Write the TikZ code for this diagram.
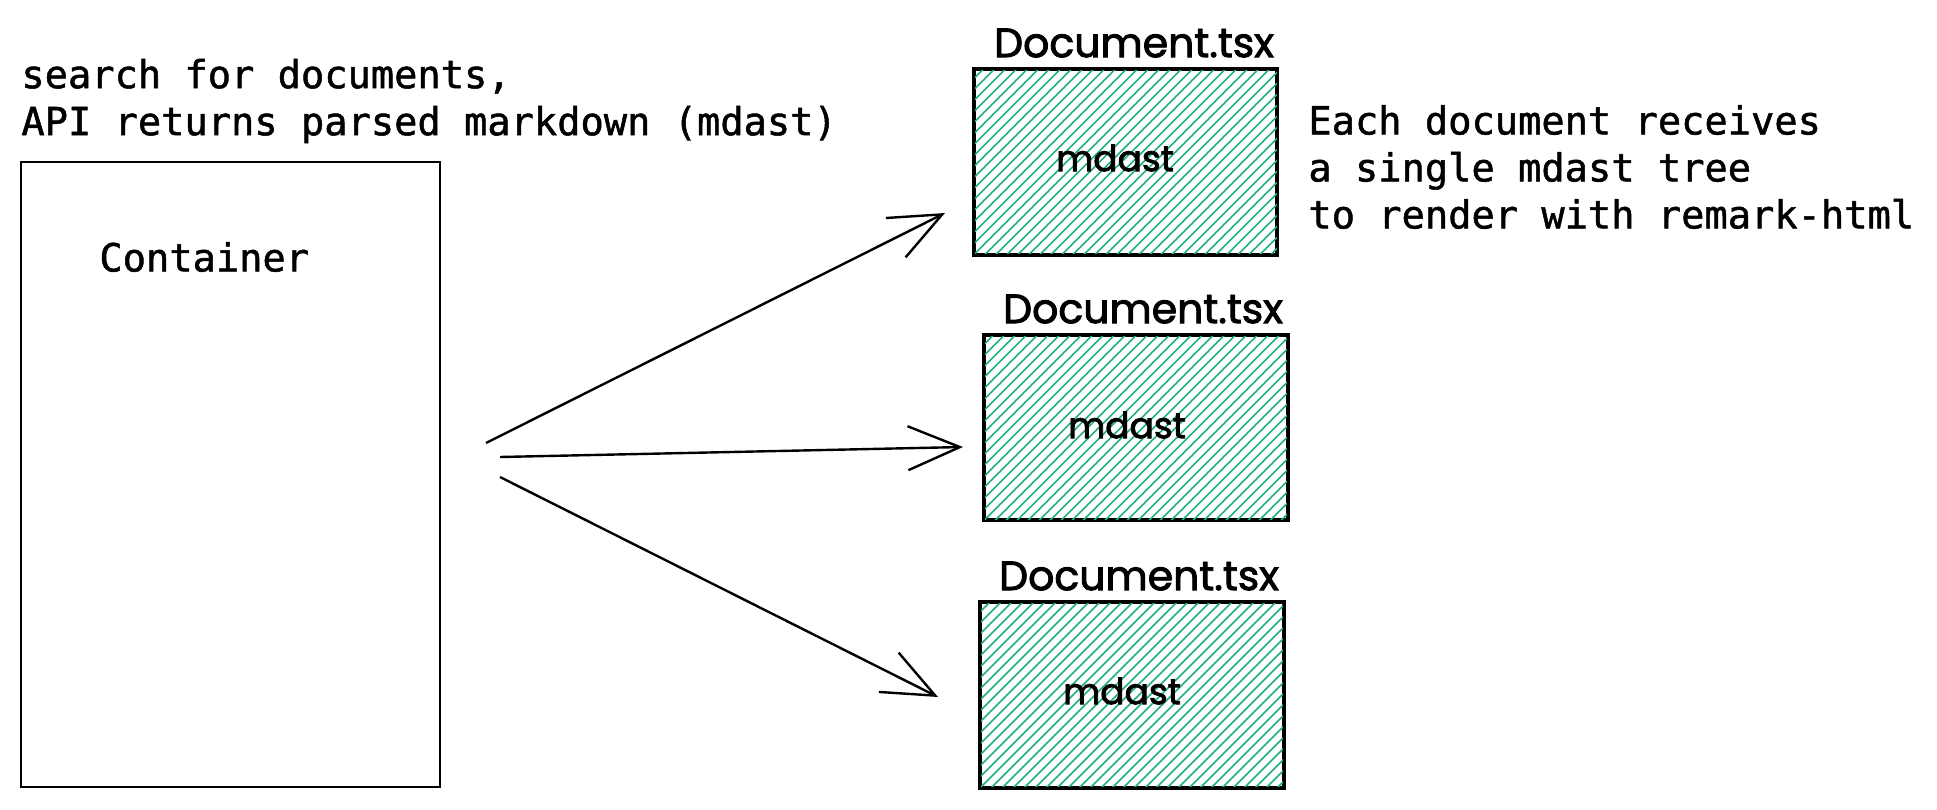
\documentclass[tikz,border=0pt]{standalone}
\usepackage{fontspec}
\usetikzlibrary{arrows.meta,calc}
\newfontfamily\monof{DejaVu Sans Mono}[FakeBold=1.3]
\newfontfamily\handf{Poppins}[FakeBold=2.2]
\definecolor{hatchgreen}{HTML}{1FB07E}
\tikzset{
  mono/.style={font=\monof\fontsize{19.35}{23.5}\selectfont, inner sep=0pt, anchor=west, align=left},
  doclabel/.style={font=\handf\fontsize{20.5}{24}\selectfont, inner sep=0pt},
  inlabel/.style={font=\handf\fontsize{18}{24}\selectfont, inner sep=0pt},
  boxstyle/.style={draw=black, line width=1.4pt, inner sep=0pt},
  docbox/.style={boxstyle, minimum width=151pt, minimum height=92pt},
  hatchline/.style={draw=hatchgreen, line width=0.75pt},
  conn/.style={line width=1.2pt, -{Straight Barb[length=26pt,width=22pt,line width=1.2pt]}},
}
\newcommand{\hatchbox}[1]{%
  \begin{scope}
    \clip (#1.south west) rectangle (#1.north east);
    \foreach \k in {-198,-187,...,320} {
      \draw[hatchline] ($(#1.south west)+(\k,0)$) -- ++(220,-220);
    }
  \end{scope}
  \draw[boxstyle] (#1.south west) rectangle (#1.north east);
}
\begin{document}
\begin{tikzpicture}[x=0.5pt,y=-0.5pt]
  \fill[white] (0,0) rectangle (1937,809);
  \useasboundingbox (0,0) rectangle (1937,809);

  % title text
  \node[mono] (title) at (21,101) {search for documents,\\API returns parsed markdown (mdast)};

  % container
  \node[boxstyle, minimum width=209.5pt, minimum height=312.5pt] (cont) at (230.5,474.5) {};
  \node[mono] (contlabel) at (99,257) {Container};

  % document boxes
  \node[docbox] (d1) at (1125.5,162) {};
  \node[docbox] (d2) at (1136,427.5) {};
  \node[docbox] (d3) at (1132,695) {};
  \hatchbox{d1}
  \hatchbox{d2}
  \hatchbox{d3}

  \node[doclabel] (l1) at (1134,43) {Document.tsx};
  \node[doclabel] (l2) at (1143,309) {Document.tsx};
  \node[doclabel] (l3) at (1139,576) {Document.tsx};

  \node[inlabel] (m1) at (1115,158) {mdast};
  \node[inlabel] (m2) at (1127,425) {mdast};
  \node[inlabel] (m3) at (1122,691) {mdast};

  % right text
  \node[mono] (desc) at (1308,167) {Each document receives\\a single mdast tree\\to render with remark-html};

  % arrows
  \coordinate (a1s) at (486,443);
  \coordinate (a1e) at (945,213);
  \coordinate (a2s) at (500,457);
  \coordinate (a2e) at (963,447);
  \coordinate (a3s) at (500,477);
  \coordinate (a3e) at (938,697);
  \draw[conn] (a1s) -- (a1e);
  \draw[conn] (a2s) -- (a2e);
  \draw[conn] (a3s) -- (a3e);
\end{tikzpicture}
\end{document}
